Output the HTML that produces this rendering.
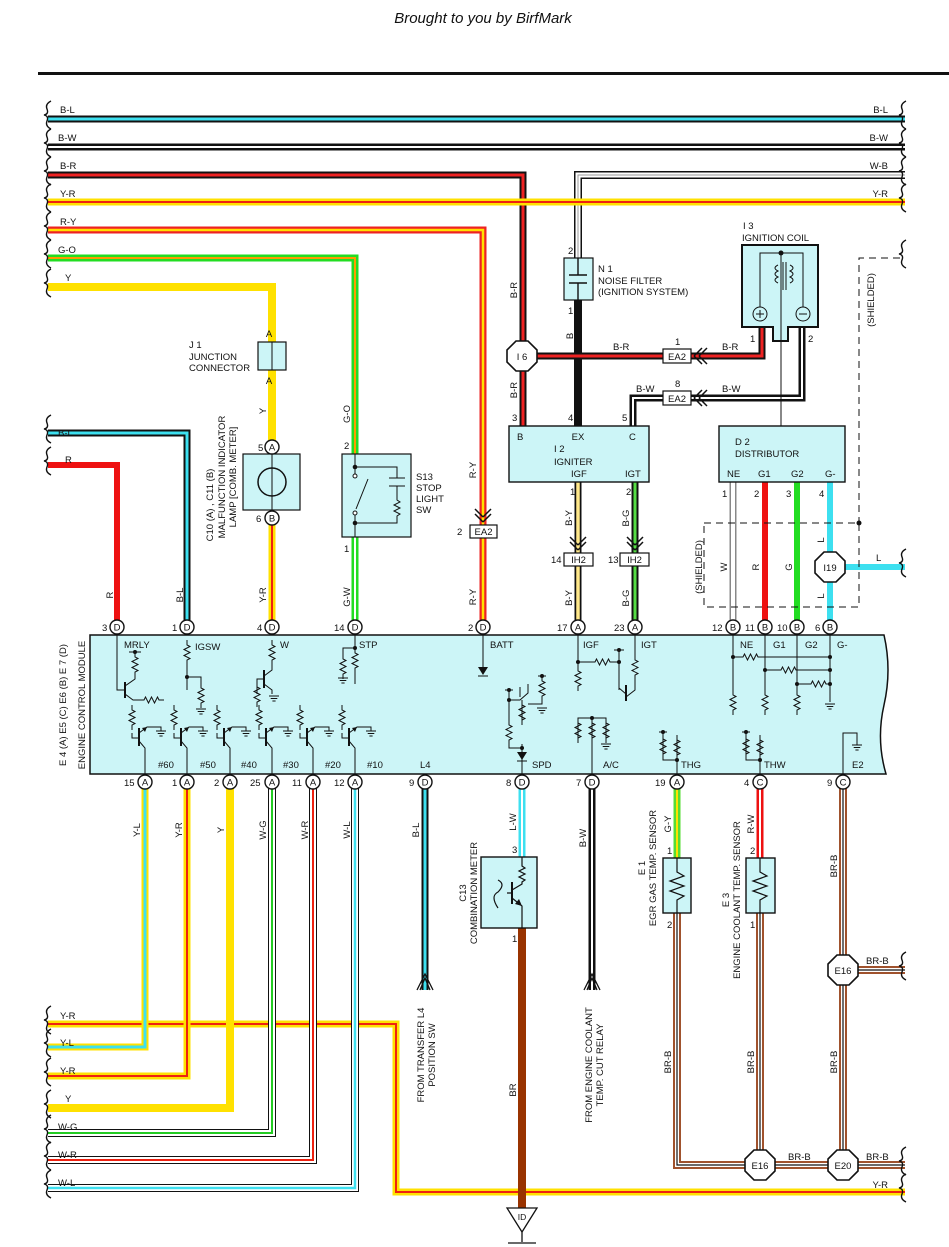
<!DOCTYPE html>
<html><head><meta charset="utf-8">
<style>
html,body{margin:0;padding:0;background:#fff;}
svg{display:block;}
text{font-family:"Liberation Sans",sans-serif;font-size:9.5px;fill:#111;}
.f{fill:none;}
</style></head><body>
<svg width="949" height="1247" viewBox="0 0 949 1247" xmlns="http://www.w3.org/2000/svg">
<defs>
<path id="wv" d="M3,-14 q-6,3 -4,8 q2,5 -3,6 q5,1 3,6 q-2,5 4,8" fill="none" stroke="#111" stroke-width="1.4"/>
<polygon id="oct" points="-6,-15 6,-15 15,-6 15,6 6,15 -6,15 -15,6 -15,-6" fill="#fff" stroke="#111" stroke-width="1.6"/>
<circle id="pc" r="7" fill="#fff" stroke="#111" stroke-width="1.4"/>
<path id="rv" d="M0,0 v5 l3,1.5 -6,3 6,3 -6,3 6,3 -3,1.5 v5" fill="none" stroke="#111" stroke-width="1"/>
<path id="rh" d="M0,0 h5 l1.5,-3 3,6 3,-6 3,6 3,-6 1.5,3 h5" fill="none" stroke="#111" stroke-width="1"/>
<path id="gnd" d="M-5,0 h10 M-3.3,2.5 h6.6 M-1.6,5 h3.2" fill="none" stroke="#111" stroke-width="1"/>
<path id="chev" d="M0,0 l-8,-8 M0,0 l8,-8 M0,-5 l-8,-8 M0,-5 l8,-8" fill="none" stroke="#111" stroke-width="1.5"/>
<path id="chl" d="M0,0 l8,-8 M0,0 l8,8 M5,0 l8,-8 M5,0 l8,8" fill="none" stroke="#111" stroke-width="1.5"/>
<g id="tr">
 <use href="#rv" x="-13" y="705"/>
 <path d="M-13,733 v5 h7 M-6,728 v18 M-6,741 l6,7 v26 M-6,733 l8,-6 h14 v4" fill="none" stroke="#111" stroke-width="1"/>
 <path d="M-6,728 v18" stroke="#111" stroke-width="2"/>
 <polygon points="2,727 -3,728 0,732" fill="#111"/>
 <use href="#gnd" x="16" y="731"/>
</g>
</defs>

<text x="483" y="23" text-anchor="middle" style="font-size:15px;font-style:italic">Brought to you by BirfMark</text>
<rect x="38" y="72" width="911" height="3" fill="#111"/>

<!-- ========== wires ========== -->
<g class="f" stroke-linejoin="miter">
<!-- top rows -->
<path d="M48,119 H905" stroke="#111" stroke-width="7"/><path d="M48,119 H905" stroke="#3de0f0" stroke-width="3"/>
<path d="M48,147 H905" stroke="#111" stroke-width="7"/><path d="M48,147 H905" stroke="#fff" stroke-width="2"/>
<path d="M48,175 H523 V426" stroke="#111" stroke-width="7"/><path d="M48,175 H523 V426" stroke="#ee2222" stroke-width="3"/>
<path d="M905,175 H578 V258" stroke="#111" stroke-width="8"/><path d="M905,175 H578 V258" stroke="#fff" stroke-width="5"/><path d="M905,175 H578 V258" stroke="#999" stroke-width="1"/>
<path d="M48,202 H905" stroke="#ffe100" stroke-width="7"/><path d="M48,202 H905" stroke="#e21" stroke-width="2"/>
<path d="M48,230 H483 V627" stroke="#ee2222" stroke-width="7"/><path d="M48,230 H483 V627" stroke="#ffe100" stroke-width="2.5"/>
<path d="M48,258 H355 V454" stroke="#22dd22" stroke-width="7"/><path d="M48,258 H355 V454" stroke="#ff9900" stroke-width="2"/>
<path d="M48,287 H272 V447" stroke="#ffe100" stroke-width="8"/>
<path d="M272,518 V627" stroke="#ffe100" stroke-width="7"/><path d="M272,518 V627" stroke="#e21" stroke-width="2"/>
<path d="M355,537 V627" stroke="#22dd22" stroke-width="7"/><path d="M355,537 V627" stroke="#fff" stroke-width="2"/>
<path d="M48,433 H187 V627" stroke="#111" stroke-width="7"/><path d="M48,433 H187 V627" stroke="#3de0f0" stroke-width="3"/>
<path d="M48,465 H117 V627" stroke="#ee1111" stroke-width="6"/>
<!-- noise filter to igniter -->
<path d="M578,300 V426" stroke="#111" stroke-width="8"/>
<!-- coil wires -->
<path d="M762,328 V356 H537" stroke="#111" stroke-width="7"/><path d="M762,328 V356 H537" stroke="#ee2222" stroke-width="3"/>
<path d="M802,328 V398 H633 V426" stroke="#111" stroke-width="7"/><path d="M802,328 V398 H633 V426" stroke="#fff" stroke-width="2"/>
<path d="M781,300 V426" stroke="#111" stroke-width="1"/>
<!-- igniter outputs -->
<path d="M578,482 V627" stroke="#111" stroke-width="7"/><path d="M578,482 V627" stroke="#ffe88a" stroke-width="3.5"/>
<path d="M635,482 V627" stroke="#111" stroke-width="7"/><path d="M635,482 V627" stroke="#55dd44" stroke-width="3"/>
<!-- distributor -->
<path d="M733,482 V627" stroke="#888" stroke-width="7"/><path d="M733,482 V627" stroke="#fff" stroke-width="4"/>
<path d="M765,482 V627" stroke="#ee1111" stroke-width="6"/>
<path d="M797,482 V627" stroke="#22dd22" stroke-width="6"/>
<path d="M830,482 V627" stroke="#3de0f0" stroke-width="6"/>
<path d="M830,567 H905" stroke="#3de0f0" stroke-width="6"/>
<!-- bottom -->
<path d="M48,1024 H396 V1192 H905" stroke="#ffe100" stroke-width="7"/><path d="M48,1024 H396 V1192 H905" stroke="#e21" stroke-width="2"/>
<path d="M145,782 V1047 H48" stroke="#ffe100" stroke-width="7"/><path d="M145,782 V1047 H48" stroke="#3de0f0" stroke-width="3"/>
<path d="M187,782 V1076 H48" stroke="#ffe100" stroke-width="7"/><path d="M187,782 V1076 H48" stroke="#e21" stroke-width="2"/>
<path d="M230,782 V1108 H48" stroke="#ffe100" stroke-width="8"/>
<path d="M272,782 V1133 H48" stroke="#111" stroke-width="8"/><path d="M272,782 V1133 H48" stroke="#fff" stroke-width="6"/><path d="M272,782 V1133 H48" stroke="#22cc22" stroke-width="2"/>
<path d="M313,782 V1160 H48" stroke="#111" stroke-width="8"/><path d="M313,782 V1160 H48" stroke="#fff" stroke-width="6"/><path d="M313,782 V1160 H48" stroke="#e21" stroke-width="2"/>
<path d="M355,782 V1188 H48" stroke="#111" stroke-width="8"/><path d="M355,782 V1188 H48" stroke="#fff" stroke-width="6"/><path d="M355,782 V1188 H48" stroke="#3de0f0" stroke-width="2.5"/>
<path d="M425,782 V990" stroke="#111" stroke-width="7"/><path d="M425,782 V990" stroke="#3de0f0" stroke-width="3"/>
<path d="M522,782 V857" stroke="#3de0f0" stroke-width="7"/><path d="M522,782 V857" stroke="#fff" stroke-width="2"/>
<path d="M522,928 V1208" stroke="#993300" stroke-width="8"/>
<path d="M592,782 V990" stroke="#111" stroke-width="7"/><path d="M592,782 V990" stroke="#fff" stroke-width="2"/>
<path d="M677,782 V858" stroke="#55dd33" stroke-width="7"/><path d="M677,782 V858" stroke="#ffe100" stroke-width="2"/>
<path d="M760,782 V858" stroke="#ee1111" stroke-width="7"/><path d="M760,782 V858" stroke="#fff" stroke-width="2"/>
<path d="M677,913 V1165 H905 M760,913 V1165 M843,782 V1165 M843,970 H905" stroke="#a0522d" stroke-width="8"/>
<path d="M677,913 V1165 H905 M760,913 V1165 M843,782 V1165 M843,970 H905" stroke="#fff" stroke-width="4"/>
<path d="M677,913 V1165 H905 M760,913 V1165 M843,782 V1165 M843,970 H905" stroke="#111" stroke-width="1.2"/>
</g>

<!-- arrows at bottom -->
<path d="M417,990 l8,-16 8,16 M420,990 l5,-12 5,12" fill="none" stroke="#111" stroke-width="1.3"/>
<path d="M584,990 l8,-16 8,16 M587,990 l5,-12 5,12" fill="none" stroke="#111" stroke-width="1.3"/>

<!-- wavy ends left -->
<use href="#wv" x="48" y="115"/><use href="#wv" x="48" y="143"/><use href="#wv" x="48" y="171"/><use href="#wv" x="48" y="198"/>
<use href="#wv" x="48" y="226"/><use href="#wv" x="48" y="254"/><use href="#wv" x="48" y="283"/><use href="#wv" x="48" y="429"/><use href="#wv" x="48" y="461"/>
<use href="#wv" x="48" y="1020"/><use href="#wv" x="48" y="1043"/><use href="#wv" x="48" y="1072"/><use href="#wv" x="48" y="1104"/><use href="#wv" x="48" y="1129"/><use href="#wv" x="48" y="1156"/><use href="#wv" x="48" y="1184"/>
<!-- wavy ends right -->
<use href="#wv" x="903" y="115"/><use href="#wv" x="903" y="143"/><use href="#wv" x="903" y="171"/><use href="#wv" x="903" y="198"/><use href="#wv" x="903" y="254"/>
<use href="#wv" x="903" y="563"/><use href="#wv" x="903" y="966"/><use href="#wv" x="903" y="1161"/><use href="#wv" x="903" y="1188"/>

<!-- shielded -->
<g fill="none" stroke="#111" stroke-width="1" stroke-dasharray="7,5">
<path d="M900,258 H859 V523"/>
<rect x="704" y="523" width="155" height="84"/>
</g>
<circle cx="859" cy="523" r="2.5" fill="#111"/>
<text transform="translate(874,300) rotate(-90)" text-anchor="middle">(SHIELDED)</text>
<text transform="translate(702,567) rotate(-90)" text-anchor="middle">(SHIELDED)</text>

<!-- top labels -->
<text x="60" y="113">B-L</text><text x="58" y="141">B-W</text><text x="60" y="169">B-R</text><text x="60" y="197">Y-R</text>
<text x="60" y="225">R-Y</text><text x="58" y="253">G-O</text><text x="65" y="281">Y</text>
<text x="58" y="436">B-L</text><text x="65" y="463">R</text>
<text x="888" y="113" text-anchor="end">B-L</text><text x="888" y="141" text-anchor="end">B-W</text><text x="888" y="169" text-anchor="end">W-B</text><text x="888" y="197" text-anchor="end">Y-R</text>

<!-- J1 -->
<rect x="258" y="342" width="28" height="28" fill="#ccf5f7" stroke="#111" stroke-width="1.2"/><line x1="272" y1="342" x2="272" y2="370" stroke="#111"/>
<text x="269" y="337" text-anchor="middle">A</text><text x="269" y="384" text-anchor="middle">A</text>
<text x="189" y="348">J 1</text><text x="189" y="360">JUNCTION</text><text x="189" y="371">CONNECTOR</text>
<text transform="translate(266,411) rotate(-90)" text-anchor="middle">Y</text>
<!-- lamp -->
<rect x="243" y="454" width="57" height="56" fill="#ccf5f7" stroke="#111" stroke-width="1.2"/>
<line x1="272" y1="447" x2="272" y2="518" stroke="#111"/>
<circle cx="272" cy="482" r="14" fill="none" stroke="#111" stroke-width="1.5"/>
<use href="#pc" x="272" y="447"/><text x="272" y="450.5" text-anchor="middle">A</text><text x="258" y="451">5</text>
<use href="#pc" x="272" y="518"/><text x="272" y="521.5" text-anchor="middle">B</text><text x="256" y="522">6</text>
<text transform="translate(225,477) rotate(-90)" text-anchor="middle">MALFUNCTION INDICATOR</text>
<text transform="translate(236,477) rotate(-90)" text-anchor="middle">LAMP [COMB. METER]</text>
<text transform="translate(213,505) rotate(-90)" text-anchor="middle">C10 (A) , C11 (B)</text>
<text transform="translate(266,595) rotate(-90)" text-anchor="middle">Y-R</text>
<text transform="translate(183,595) rotate(-90)" text-anchor="middle">B-L</text>
<text transform="translate(113,595) rotate(-90)" text-anchor="middle">R</text>
<!-- S13 -->
<rect x="342" y="454" width="69" height="83" fill="#ccf5f7" stroke="#111" stroke-width="1.2"/>
<path d="M355,454 V476 M355,513 V537 M355,467 H397 V478 M389,478 h16 M389,486 h16 M397,486 V500 l3,2 -6,3 6,3 -6,3 6,3 -3,2 V523 H355 M356,509 l12,-30" fill="none" stroke="#111" stroke-width="1"/>
<circle cx="355" cy="467" r="2.3" fill="#111"/><circle cx="355" cy="523" r="2.3" fill="#111"/>
<circle cx="355" cy="476" r="2" fill="#fff" stroke="#111"/><circle cx="355" cy="513" r="2" fill="#fff" stroke="#111"/>
<text x="344" y="449">2</text><text x="344" y="552">1</text>
<text x="416" y="480">S13</text><text x="416" y="491">STOP</text><text x="416" y="502">LIGHT</text><text x="416" y="513">SW</text>
<text transform="translate(350,414) rotate(-90)" text-anchor="middle">G-O</text>
<text transform="translate(350,597) rotate(-90)" text-anchor="middle">G-W</text>
<!-- R-Y EA2 -->
<use href="#chev" x="483" y="522"/>
<rect x="470" y="525" width="27" height="13" fill="#fff" stroke="#111" stroke-width="1.2"/><text x="483.5" y="535" text-anchor="middle">EA2</text>
<text x="457" y="535">2</text>
<text transform="translate(476,470) rotate(-90)" text-anchor="middle">R-Y</text>
<text transform="translate(476,597) rotate(-90)" text-anchor="middle">R-Y</text>

<!-- I6 -->
<use href="#oct" x="522" y="356"/><text x="522" y="360" text-anchor="middle">I 6</text>
<text transform="translate(517,290) rotate(-90)" text-anchor="middle">B-R</text>
<text transform="translate(517,390) rotate(-90)" text-anchor="middle">B-R</text>
<!-- noise filter -->
<rect x="564" y="258" width="29" height="42" fill="#ccf5f7" stroke="#111" stroke-width="1.2"/>
<path d="M578,258 V275 M578,283 V300 M569,275 h18 M569,283 h18" stroke="#111" stroke-width="1.4" fill="none"/>
<text x="568" y="254">2</text><text x="568" y="314">1</text><text x="568" y="421">4</text>
<text transform="translate(573,336) rotate(-90)" text-anchor="middle">B</text>
<text x="598" y="272">N 1</text><text x="598" y="284">NOISE FILTER</text><text x="598" y="295">(IGNITION SYSTEM)</text>
<!-- ignition coil -->
<path d="M742,245 H818 V327 H788 V341 H773 V327 H742 Z" fill="#ccf5f7" stroke="#111" stroke-width="2"/>
<path d="M760,307 V253 H803 V307 M781,253 V341 M778,265 q-6,3 0,6 q-6,3 0,6 q-6,3 0,6 M790,265 q6,3 0,6 q6,3 0,6 q6,3 0,6 M783,262 v28 M786,262 v28" fill="none" stroke="#111" stroke-width="1"/>
<circle cx="781" cy="253" r="2.5" fill="#111"/>
<circle cx="760" cy="314" r="7" fill="none" stroke="#111"/><path d="M756,314 h8 M760,310 v8" stroke="#111"/>
<circle cx="803" cy="314" r="7" fill="none" stroke="#111"/><path d="M799,314 h8" stroke="#111"/>
<text x="743" y="229">I 3</text><text x="742" y="241">IGNITION COIL</text>
<text x="750" y="342">1</text><text x="808" y="342">2</text>
<!-- EA2 coil -->
<use href="#chl" x="694" y="356"/>
<rect x="663" y="349" width="28" height="14" fill="#fff" stroke="#111" stroke-width="1.2"/><text x="677" y="360" text-anchor="middle">EA2</text>
<use href="#chl" x="694" y="398"/>
<rect x="663" y="391" width="28" height="14" fill="#fff" stroke="#111" stroke-width="1.2"/><text x="677" y="402" text-anchor="middle">EA2</text>
<text x="675" y="345">1</text><text x="675" y="387">8</text>
<text x="613" y="350">B-R</text><text x="722" y="350">B-R</text>
<text x="636" y="392">B-W</text><text x="722" y="392">B-W</text>
<!-- igniter -->
<rect x="509" y="426" width="140" height="56" fill="#ccf5f7" stroke="#111" stroke-width="1.4"/>
<circle cx="578" cy="424" r="2.5" fill="#111"/>
<text x="517" y="440">B</text><text x="578" y="440" text-anchor="middle">EX</text><text x="629" y="440">C</text>
<text x="554" y="452">I 2</text><text x="554" y="465">IGNITER</text><text x="571" y="477">IGF</text><text x="625" y="477">IGT</text>
<text x="512" y="421">3</text><text x="622" y="421">5</text>
<text x="570" y="495">1</text><text x="626" y="495">2</text>
<use href="#chev" x="578" y="550"/><use href="#chev" x="635" y="550"/>
<rect x="564" y="553" width="29" height="13" fill="#fff" stroke="#111" stroke-width="1.2"/><text x="578.5" y="563" text-anchor="middle">IH2</text>
<rect x="620" y="553" width="29" height="13" fill="#fff" stroke="#111" stroke-width="1.2"/><text x="634.5" y="563" text-anchor="middle">IH2</text>
<text x="551" y="563">14</text><text x="608" y="563">13</text>
<text transform="translate(572,518) rotate(-90)" text-anchor="middle">B-Y</text>
<text transform="translate(572,598) rotate(-90)" text-anchor="middle">B-Y</text>
<text transform="translate(629,518) rotate(-90)" text-anchor="middle">B-G</text>
<text transform="translate(629,598) rotate(-90)" text-anchor="middle">B-G</text>
<!-- distributor -->
<rect x="719" y="426" width="126" height="56" fill="#ccf5f7" stroke="#111" stroke-width="1.4"/>
<text x="735" y="445">D 2</text><text x="735" y="457">DISTRIBUTOR</text>
<text x="727" y="477">NE</text><text x="758" y="477">G1</text><text x="791" y="477">G2</text><text x="825" y="477">G-</text>
<text x="722" y="497">1</text><text x="754" y="497">2</text><text x="786" y="497">3</text><text x="819" y="497">4</text>
<text transform="translate(727,567) rotate(-90)" text-anchor="middle">W</text>
<text transform="translate(759,567) rotate(-90)" text-anchor="middle">R</text>
<text transform="translate(792,567) rotate(-90)" text-anchor="middle">G</text>
<text transform="translate(824,540) rotate(-90)" text-anchor="middle">L</text>
<text transform="translate(824,596) rotate(-90)" text-anchor="middle">L</text>
<use href="#oct" x="830" y="567"/><text x="830" y="571" text-anchor="middle">I19</text>
<text x="876" y="561">L</text>

<!-- ECM -->
<path d="M90,635 H884 q8,35 0,70 q-8,35 2,69 H90 Z" fill="#ccf5f7" stroke="#111" stroke-width="1.5"/>
<text transform="translate(66,705) rotate(-90)" text-anchor="middle">E 4 (A) E5 (C) E6 (B) E 7 (D)</text>
<text transform="translate(85,705) rotate(-90)" text-anchor="middle">ENGINE CONTROL MODULE</text>
<!-- top pins -->
<g>
<use href="#pc" x="117" y="627"/><text x="117" y="630.5" text-anchor="middle">D</text><text x="102" y="631">3</text>
<use href="#pc" x="187" y="627"/><text x="187" y="630.5" text-anchor="middle">D</text><text x="172" y="631">1</text>
<use href="#pc" x="272" y="627"/><text x="272" y="630.5" text-anchor="middle">D</text><text x="257" y="631">4</text>
<use href="#pc" x="355" y="627"/><text x="355" y="630.5" text-anchor="middle">D</text><text x="334" y="631">14</text>
<use href="#pc" x="483" y="627"/><text x="483" y="630.5" text-anchor="middle">D</text><text x="468" y="631">2</text>
<use href="#pc" x="578" y="627"/><text x="578" y="630.5" text-anchor="middle">A</text><text x="557" y="631">17</text>
<use href="#pc" x="635" y="627"/><text x="635" y="630.5" text-anchor="middle">A</text><text x="614" y="631">23</text>
<use href="#pc" x="733" y="627"/><text x="733" y="630.5" text-anchor="middle">B</text><text x="712" y="631">12</text>
<use href="#pc" x="765" y="627"/><text x="765" y="630.5" text-anchor="middle">B</text><text x="745" y="631">11</text>
<use href="#pc" x="797" y="627"/><text x="797" y="630.5" text-anchor="middle">B</text><text x="777" y="631">10</text>
<use href="#pc" x="830" y="627"/><text x="830" y="630.5" text-anchor="middle">B</text><text x="815" y="631">6</text>
</g>
<!-- bottom pins -->
<g>
<use href="#pc" x="145" y="782"/><text x="145" y="785.5" text-anchor="middle">A</text><text x="124" y="786">15</text>
<use href="#pc" x="187" y="782"/><text x="187" y="785.5" text-anchor="middle">A</text><text x="172" y="786">1</text>
<use href="#pc" x="230" y="782"/><text x="230" y="785.5" text-anchor="middle">A</text><text x="214" y="786">2</text>
<use href="#pc" x="272" y="782"/><text x="272" y="785.5" text-anchor="middle">A</text><text x="250" y="786">25</text>
<use href="#pc" x="313" y="782"/><text x="313" y="785.5" text-anchor="middle">A</text><text x="292" y="786">11</text>
<use href="#pc" x="355" y="782"/><text x="355" y="785.5" text-anchor="middle">A</text><text x="334" y="786">12</text>
<use href="#pc" x="425" y="782"/><text x="425" y="785.5" text-anchor="middle">D</text><text x="409" y="786">9</text>
<use href="#pc" x="522" y="782"/><text x="522" y="785.5" text-anchor="middle">D</text><text x="506" y="786">8</text>
<use href="#pc" x="592" y="782"/><text x="592" y="785.5" text-anchor="middle">D</text><text x="576" y="786">7</text>
<use href="#pc" x="677" y="782"/><text x="677" y="785.5" text-anchor="middle">A</text><text x="655" y="786">19</text>
<use href="#pc" x="760" y="782"/><text x="760" y="785.5" text-anchor="middle">C</text><text x="744" y="786">4</text>
<use href="#pc" x="843" y="782"/><text x="843" y="785.5" text-anchor="middle">C</text><text x="827" y="786">9</text>
</g>
<!-- ECM internal -->
<g fill="none" stroke="#111" stroke-width="1">
<!-- MRLY -->
<path d="M117,634 V690 H125 M125,682 v16 M125,686 l10,-7 V672 M125,694 l8,6 h6"/>
<path d="M125,682 v16" stroke-width="2"/>
<use href="#rv" x="135" y="652"/><path d="M129,652 h12"/>
<use href="#rh" x="139" y="700"/>
<!-- IGSW -->
<use href="#rv" x="187" y="640"/><path d="M187,664 V690 M187,677 H201 V683"/>
<use href="#rv" x="201" y="683"/><use href="#gnd" x="201" y="709"/>
<!-- W -->
<use href="#rv" x="272" y="640"/><path d="M272,664 V670 l-8,6 M264,670 v18 M264,684 l8,6 v4 M264,679 H257 V694"/>
<path d="M264,670 v18" stroke-width="2"/>
<use href="#rv" x="257" y="682"/><use href="#gnd" x="274" y="696"/>
<!-- STP -->
<path d="M355,634 V648 H343 V654"/><use href="#rv" x="343" y="654"/><use href="#gnd" x="343" y="678"/>
<use href="#rv" x="355" y="648"/><path d="M355,672 V684"/>
<!-- BATT -->
<path d="M483,634 V670"/>
<!-- IGF/IGT -->
<path d="M578,634 V668 M578,662 H590 M611,662 H619 V690 M619,650 V662 M614,650 h10 M635,634 V655 M635,679 V690 l-9,7 M626,685 v16 M626,694 l-7,-6"/>
<path d="M626,685 v16" stroke-width="2"/>
<use href="#rh" x="590" y="662"/><use href="#rv" x="578" y="666"/><use href="#rv" x="635" y="655"/>
<!-- NE G1 G2 -->
<path d="M733,634 V690 M733,657 H740 M765,634 V690 M765,670 H776 M797,634 V690 M797,684 H806 M830,634 V702 M760,657 H830 M797,670 H830 M826,684 H830"/>
<use href="#rh" x="738" y="657"/><use href="#rh" x="776" y="670"/><use href="#rh" x="806" y="684"/>
<use href="#rv" x="733" y="690"/><use href="#rv" x="765" y="690"/><use href="#rv" x="797" y="690"/>
<use href="#gnd" x="830" y="704"/>
<!-- SPD -->
<path d="M509,690 V700 H520 l8,-7 V684 M520,697 v-10 M528,704 H542 V700 M509,700 V720 M522,700 V720 M509,744 V748 H522 V744 M522,748 V774"/>
<use href="#rv" x="509" y="720"/><use href="#rv" x="522" y="700"/><use href="#rv" x="542" y="676"/><use href="#gnd" x="542" y="708"/>
<path d="M505,690 h8 M538,676 h8"/>
<!-- A/C -->
<path d="M578,740 V718 H606 V740 M592,718 V774"/>
<use href="#rv" x="578" y="718"/><use href="#rv" x="592" y="718"/><use href="#rv" x="606" y="718"/><use href="#gnd" x="606" y="744"/>
<!-- THG -->
<path d="M663,732 V760 H677 V774 M677,735 V760 M659,732 h8"/>
<use href="#rv" x="663" y="734"/><use href="#rv" x="677" y="735"/>
<!-- THW -->
<path d="M746,732 V760 H760 V774 M760,735 V760 M742,732 h8"/>
<use href="#rv" x="746" y="734"/><use href="#rv" x="760" y="735"/>
<!-- E2 -->
<path d="M843,774 V733 H857 V745"/><use href="#gnd" x="857" y="745"/>
</g>
<polygon points="478,667 488,667 483,675" fill="#111"/><line x1="478" y1="676" x2="488" y2="676" stroke="#111"/>
<polygon points="517,752 527,752 522,760" fill="#111"/><line x1="517" y1="761" x2="527" y2="761" stroke="#111"/>
<circle cx="578" cy="662" r="2" fill="#111"/><circle cx="619" cy="662" r="2" fill="#111"/><circle cx="619" cy="650" r="2" fill="#111"/>
<circle cx="187" cy="677" r="2" fill="#111"/><circle cx="355" cy="648" r="2" fill="#111"/><circle cx="135" cy="652" r="2" fill="#111"/>
<circle cx="733" cy="657" r="2" fill="#111"/><circle cx="765" cy="670" r="2" fill="#111"/><circle cx="797" cy="684" r="2" fill="#111"/>
<circle cx="830" cy="657" r="2" fill="#111"/><circle cx="830" cy="670" r="2" fill="#111"/><circle cx="830" cy="684" r="2" fill="#111"/>
<circle cx="592" cy="718" r="2" fill="#111"/><circle cx="509" cy="690" r="2" fill="#111"/><circle cx="509" cy="700" r="2" fill="#111"/><circle cx="522" cy="748" r="2" fill="#111"/><circle cx="542" cy="676" r="2" fill="#111"/>
<circle cx="663" cy="732" r="2" fill="#111"/><circle cx="677" cy="760" r="2" fill="#111"/><circle cx="746" cy="732" r="2" fill="#111"/><circle cx="760" cy="760" r="2" fill="#111"/>
<use href="#tr" x="145"/><use href="#tr" x="187"/><use href="#tr" x="230"/><use href="#tr" x="272"/><use href="#tr" x="313"/><use href="#tr" x="355"/>
<!-- ECM labels -->
<text x="124" y="648">MRLY</text><text x="195" y="650">IGSW</text><text x="280" y="648">W</text><text x="359" y="648">STP</text>
<text x="490" y="648">BATT</text><text x="583" y="648">IGF</text><text x="641" y="648">IGT</text>
<text x="740" y="648">NE</text><text x="773" y="648">G1</text><text x="805" y="648">G2</text><text x="837" y="648">G-</text>
<text x="158" y="768">#60</text><text x="200" y="768">#50</text><text x="241" y="768">#40</text><text x="283" y="768">#30</text><text x="325" y="768">#20</text><text x="367" y="768">#10</text>
<text x="420" y="768">L4</text><text x="532" y="768">SPD</text><text x="603" y="768">A/C</text><text x="681" y="768">THG</text><text x="764" y="768">THW</text><text x="852" y="768">E2</text>

<!-- bottom labels -->
<text transform="translate(140,830) rotate(-90)" text-anchor="middle">Y-L</text>
<text transform="translate(182,830) rotate(-90)" text-anchor="middle">Y-R</text>
<text transform="translate(224,830) rotate(-90)" text-anchor="middle">Y</text>
<text transform="translate(266,830) rotate(-90)" text-anchor="middle">W-G</text>
<text transform="translate(308,830) rotate(-90)" text-anchor="middle">W-R</text>
<text transform="translate(350,830) rotate(-90)" text-anchor="middle">W-L</text>
<text transform="translate(419,830) rotate(-90)" text-anchor="middle">B-L</text>
<text transform="translate(516,822) rotate(-90)" text-anchor="middle">L-W</text>
<text transform="translate(586,838) rotate(-90)" text-anchor="middle">B-W</text>
<text transform="translate(671,824) rotate(-90)" text-anchor="middle">G-Y</text>
<text transform="translate(754,824) rotate(-90)" text-anchor="middle">R-W</text>
<text transform="translate(837,866) rotate(-90)" text-anchor="middle">BR-B</text>
<text transform="translate(671,1062) rotate(-90)" text-anchor="middle">BR-B</text>
<text transform="translate(754,1062) rotate(-90)" text-anchor="middle">BR-B</text>
<text transform="translate(837,1062) rotate(-90)" text-anchor="middle">BR-B</text>
<text transform="translate(516,1090) rotate(-90)" text-anchor="middle">BR</text>
<text x="60" y="1019">Y-R</text><text x="60" y="1046">Y-L</text><text x="60" y="1074">Y-R</text><text x="65" y="1102">Y</text>
<text x="58" y="1130">W-G</text><text x="58" y="1158">W-R</text><text x="58" y="1186">W-L</text>
<text x="888" y="1188" text-anchor="end">Y-R</text>
<text x="788" y="1160">BR-B</text><text x="866" y="1160">BR-B</text><text x="866" y="964">BR-B</text>
<text transform="translate(424,1055) rotate(-90)" text-anchor="middle">FROM TRANSFER L4</text>
<text transform="translate(435,1055) rotate(-90)" text-anchor="middle">POSITION SW</text>
<text transform="translate(592,1065) rotate(-90)" text-anchor="middle">FROM ENGINE COOLANT</text>
<text transform="translate(603,1065) rotate(-90)" text-anchor="middle">TEMP. CUT RELAY</text>
<!-- combination meter -->
<rect x="481" y="857" width="56" height="71" fill="#ccf5f7" stroke="#111" stroke-width="1.4"/>
<path d="M522,857 V866 l3,2 -6,3 6,3 -6,3 6,3 -3,2 V884 l-10,6 M512,882 v22 M512,898 l10,8 V928 M507,893 h5 M498,880 q8,4 0,12 q-8,4 0,16" fill="none" stroke="#111" stroke-width="1.2"/>
<path d="M512,882 v22" stroke="#111" stroke-width="2"/>
<polygon points="522,906 515,904 519,899" fill="#111"/>
<text x="512" y="853">3</text><text x="512" y="942">1</text>
<text transform="translate(466,893) rotate(-90)" text-anchor="middle">C13</text>
<text transform="translate(477,893) rotate(-90)" text-anchor="middle">COMBINATION METER</text>
<!-- ground -->
<polygon points="507,1208 537,1208 522,1232" fill="#fff" stroke="#111" stroke-width="1.3"/>
<text x="522" y="1220" text-anchor="middle" style="font-size:8.5px">ID</text>
<path d="M522,1232 V1242 M508,1243 h28" stroke="#111" stroke-width="1.3"/>
<!-- sensors -->
<rect x="663" y="858" width="28" height="55" fill="#ccf5f7" stroke="#111" stroke-width="1.4"/>
<path d="M677,858 V872 l7,4 -14,5 14,5 -14,5 14,5 -7,4 V913" fill="none" stroke="#111" stroke-width="1.2"/>
<rect x="746" y="858" width="29" height="55" fill="#ccf5f7" stroke="#111" stroke-width="1.4"/>
<path d="M760,858 V872 l7,4 -14,5 14,5 -14,5 14,5 -7,4 V913" fill="none" stroke="#111" stroke-width="1.2"/>
<text x="667" y="854">1</text><text x="667" y="928">2</text><text x="750" y="854">2</text><text x="750" y="928">1</text>
<text transform="translate(645,868) rotate(-90)" text-anchor="middle">E 1</text>
<text transform="translate(656,868) rotate(-90)" text-anchor="middle">EGR GAS TEMP.  SENSOR</text>
<text transform="translate(729,900) rotate(-90)" text-anchor="middle">E 3</text>
<text transform="translate(740,900) rotate(-90)" text-anchor="middle">ENGINE COOLANT TEMP.  SENSOR</text>
<use href="#oct" x="843" y="970"/><text x="843" y="974" text-anchor="middle">E16</text>
<use href="#oct" x="760" y="1165"/><text x="760" y="1169" text-anchor="middle">E16</text>
<use href="#oct" x="843" y="1165"/><text x="843" y="1169" text-anchor="middle">E20</text>
</svg>
</body></html>
